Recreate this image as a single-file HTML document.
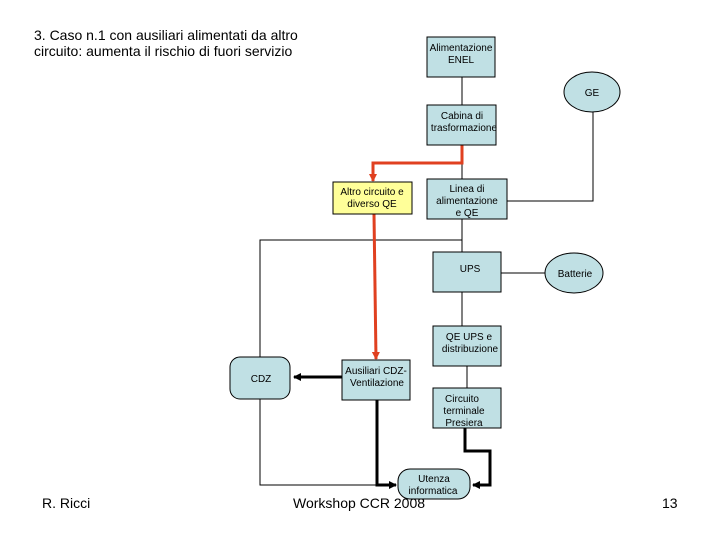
<!DOCTYPE html>
<html><head><style>
body{margin:0;width:720px;height:540px;background:#fff;position:relative;overflow:hidden;font-family:"Liberation Sans",sans-serif}
.t{position:absolute;color:#000;white-space:nowrap}
</style></head><body>
<svg width="720" height="540" style="position:absolute;left:0;top:0" font-family="Liberation Sans, sans-serif">
<defs>
<marker id="ab" markerWidth="8" markerHeight="8" refX="7" refY="4" orient="auto" markerUnits="userSpaceOnUse"><path d="M0,0 L8,4 L0,8z" fill="#000"/></marker>
<marker id="ar" markerWidth="8" markerHeight="8" refX="7" refY="4" orient="auto" markerUnits="userSpaceOnUse"><path d="M0,0 L8,4 L0,8z" fill="#e04020"/></marker>
</defs>
<g stroke="#000" stroke-width="1" fill="none">
<line x1="462" y1="77" x2="462" y2="105"/>
<line x1="462" y1="145" x2="462" y2="179"/>
<polyline points="507,201 593,201 593,111"/>
<line x1="462" y1="219" x2="462" y2="252"/>
<polyline points="462,240 260,240 260,357"/>
<line x1="501" y1="273" x2="546" y2="273"/>
<line x1="462" y1="292" x2="462" y2="326"/>
<line x1="467" y1="366" x2="467" y2="388"/>
<polyline points="260,399 260,485 390,485"/>
</g>
<g stroke="#000" stroke-width="3" fill="none">
<line x1="342" y1="377" x2="294" y2="377" marker-end="url(#ab)"/>
<polyline points="377,400 377,485 396,485" marker-end="url(#ab)"/>
<polyline points="465,428 465,451 490,451 490,485 473,485" marker-end="url(#ab)"/>
</g>
<g stroke="#e04020" stroke-width="3" fill="none">
<polyline points="462,145 462,163 373,163 373,181" marker-end="url(#ar)"/>
<line x1="374" y1="214" x2="376" y2="359" marker-end="url(#ar)"/>
</g>
<g fill="#c0e0e4" stroke="#000" stroke-width="1">
<rect x="427" y="37" width="68" height="40"/>
<ellipse cx="592" cy="92" rx="28" ry="20"/>
<rect x="427" y="105" width="69" height="40"/>
<rect x="427" y="179" width="80" height="40"/>
<rect x="433" y="252" width="68" height="40"/>
<ellipse cx="574" cy="273" rx="29" ry="20"/>
<rect x="433" y="326" width="68" height="40"/>
<rect x="433" y="388" width="68" height="40"/>
<rect x="230" y="357" width="60" height="42" rx="10"/>
<rect x="342" y="360" width="68" height="40"/>
<rect x="398" y="469" width="72" height="30" rx="12"/>
</g>
<rect x="333" y="182" width="79" height="32" fill="#ffff99" stroke="#000"/>
<g font-size="10" fill="#000" text-anchor="middle">
<text x="461" y="51">Alimentazione</text><text x="461" y="63">ENEL</text>
<text x="592" y="96">GE</text>
<text x="462" y="119">Cabina di</text><text x="464" y="131">trasformazione</text>
<text x="372" y="195">Altro circuito e</text><text x="372" y="207">diverso QE</text>
<text x="467" y="192">Linea di</text><text x="467" y="204">alimentazione</text><text x="467" y="216">e QE</text>
<text x="470" y="272">UPS</text>
<text x="575" y="277">Batterie</text>
<text x="469" y="340">QE UPS e</text><text x="470" y="352">distribuzione</text>
<text x="462" y="402">Circuito</text><text x="464" y="414">terminale</text><text x="464" y="426">Presiera</text>
<text x="261" y="382">CDZ</text>
<text x="376" y="374">Ausiliari CDZ-</text><text x="377" y="386">Ventilazione</text>
<text x="434" y="482">Utenza</text><text x="433" y="494">informatica</text>
</g>
<g font-size="14" fill="#000">
<text x="34" y="40">3. Caso n.1 con ausiliari alimentati da altro</text>
<text x="34" y="56">circuito: aumenta il rischio di fuori servizio</text>
<text x="42" y="508">R. Ricci</text>
<text x="293" y="508">Workshop CCR 2008</text>
<text x="662" y="508">13</text>
</g>
</svg>
</body></html>
